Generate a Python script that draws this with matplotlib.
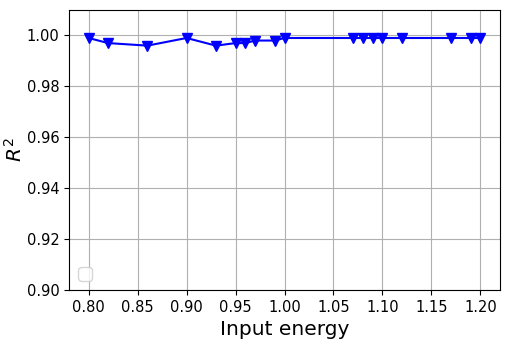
import matplotlib

matplotlib.use("Agg")
import matplotlib.pyplot as plt

energy = [0.80, 0.82, 0.86, 0.90, 0.93, 0.95, 0.96, 0.97, 0.99, 1.00,
          1.07, 1.08, 1.09, 1.10, 1.12, 1.17, 1.19, 1.20]
r2 = [0.999, 0.997, 0.996, 0.999, 0.996, 0.997, 0.997, 0.998, 0.998, 0.999,
      0.999, 0.999, 0.999, 0.999, 0.999, 0.999, 0.999, 0.999]

fig = plt.figure(figsize=(5.09, 3.39), dpi=100)
ax = fig.add_axes([69 / 509, 1 - 290 / 339, 431 / 509, 280 / 339])
ax.plot(energy, r2, color="blue", marker="v", markersize=6.5, linewidth=1.5)
ax.set_xlim(0.78, 1.22)
ax.set_ylim(0.90, 1.01)
ax.set_xticks([0.80, 0.85, 0.90, 0.95, 1.00, 1.05, 1.10, 1.15, 1.20])
ax.set_yticks([0.90, 0.92, 0.94, 0.96, 0.98, 1.00])
ax.tick_params(labelsize=10.5)
ax.set_xlabel("Input energy", fontsize=14.5)
ax.set_ylabel("$R^2$", fontsize=14.5)
ax.yaxis.set_label_coords(-0.1, 0.5)
ax.grid(True)
ax.legend(handles=[], loc="lower left", fontsize=13)
fig.savefig("out.png", dpi=100)
